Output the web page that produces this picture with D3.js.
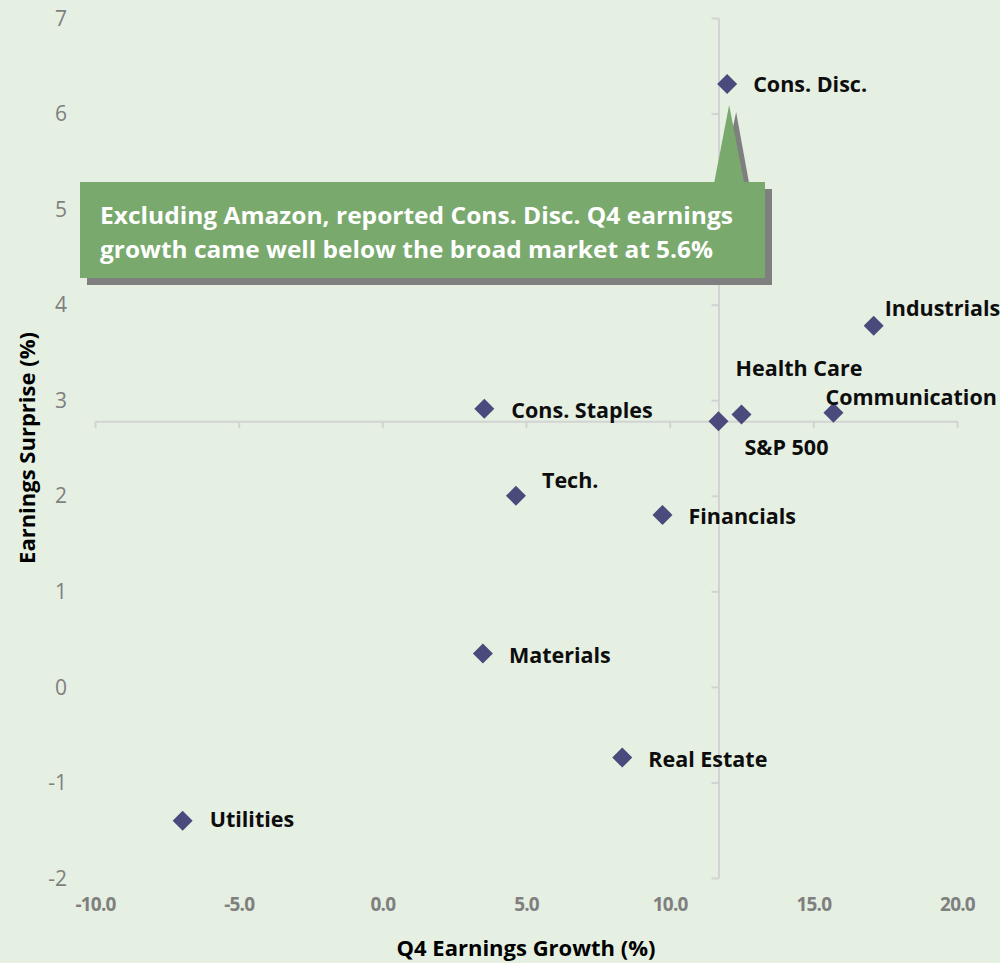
<!DOCTYPE html>
<html>
<head>
<meta charset="utf-8">
<script src="https://cdn.jsdelivr.net/npm/d3@7"></script>
<style>
  body { margin: 0; background: #e5efe2; }
  svg { display: block; font-family: "Open Sans", "DejaVu Sans", sans-serif; }
</style>
</head>
<body>
<div id="chart"></div>
<script>
// sectors and their values (x = Q4 earnings growth %, y = earnings surprise %)
var sectors = ["Cons. Disc.", "Industrials", "Health Care", "Communication", "S&P 500",
               "Cons. Staples", "Tech.", "Financials", "Materials", "Real Estate", "Utilities"];
var growth   = [12.0, 17.1, 12.5, 15.7, 11.7, 3.55, 4.65, 9.75, 3.5, 8.35, -6.95];
var surprise = [6.31, 3.78, 2.85, 2.87, 2.78, 2.91, 2.0, 1.8, 0.35, -0.74, -1.4];
var xTicks = [-10, -5, 0, 5, 10, 15, 20];
var yTicks = [-2, -1, 0, 1, 2, 3, 4, 5, 6, 7];
var benchmark = "S&P 500";
var note = ["Excluding Amazon, reported Cons. Disc. Q4 earnings",
            "growth came well below the broad market at 5.6%"];

var width = 1000, height = 963;
var margin = { top: 18, right: 43, bottom: 85, left: 95 };

// label placement relative to the marker (dx, baseline dy)
var labelPos = {
  "Cons. Disc.": [26, 8], "Industrials": [11, -10], "Health Care": [-6, -39],
  "Communication": [-8, -8], "S&P 500": [26, 34], "Cons. Staples": [27, 9],
  "Tech.": [26, -8], "Financials": [26, 9], "Materials": [26, 10],
  "Real Estate": [26, 9], "Utilities": [27, 6]
};

var data = sectors.map(function (s, i) { return { name: s, x: growth[i], y: surprise[i] }; });
var bench = data.find(function (d) { return d.name == benchmark; });

var x = d3.scaleLinear().domain([-10, 20]).range([margin.left, width - margin.right]);
var y = d3.scaleLinear().domain([-2, 7]).range([height - margin.bottom, margin.top]);

// plain hyphen for negatives, like the original
var fmtX = function (d) { return d.toFixed(1); };
var fmtY = function (d) { return String(d); };

var svg = d3.select("#chart").append("svg")
    .attr("width", width)
    .attr("height", height);

svg.append("rect").attr("width", width).attr("height", height).attr("fill", "#e5efe2");

// crossing axes through the S&P 500 point
var hAxis = svg.append("g")
    .attr("transform", "translate(0," + y(bench.y) + ")")
    .call(d3.axisBottom(x).tickValues(xTicks).tickSize(7).tickSizeOuter(0).tickFormat(""));
var vAxis = svg.append("g")
    .attr("transform", "translate(" + x(bench.x) + ",0)")
    .call(d3.axisLeft(y).tickValues(yTicks).tickSize(7).tickSizeOuter(0).tickFormat(""));
[hAxis, vAxis].forEach(function (g) {
  g.selectAll("path, line").attr("stroke", "#d3d3d3").attr("stroke-width", 2);
});

// tick labels along the outer edges
var xLab = svg.append("g")
    .attr("transform", "translate(0," + (height - margin.bottom + 16) + ")")
    .call(d3.axisBottom(x).tickValues(xTicks).tickSize(0).tickFormat(fmtX));
xLab.select(".domain").remove();
xLab.selectAll("text")
    .attr("fill", "#7f7f7f")
    .style("font-size", "19px")
    .style("font-weight", "bold")
    .style("letter-spacing", "-0.8px")
    .style("font-family", "'Open Sans', sans-serif");

var yLab = svg.append("g")
    .attr("transform", "translate(70,0)")
    .call(d3.axisLeft(y).tickValues(yTicks).tickSize(0).tickFormat(fmtY));
yLab.select(".domain").remove();
yLab.selectAll("text")
    .attr("fill", "#7f7f7f")
    .attr("dy", "0.34em")
    .style("font-size", "21px")
    .style("font-family", "'Open Sans', sans-serif");

// axis titles
svg.append("text")
    .attr("x", (x(-10) + x(20)) / 2)
    .attr("y", 956)
    .attr("text-anchor", "middle")
    .style("font-size", "22px")
    .style("font-weight", "bold")
    .text("Q4 Earnings Growth (%)");

svg.append("text")
    .attr("transform", "translate(35," + 448 + ") rotate(-90)")
    .attr("text-anchor", "middle")
    .style("font-size", "22px")
    .style("font-weight", "bold")
    .text("Earnings Surprise (%)");

// callout with shadow and pointer
var cd = data[0];
var px = x(cd.x), py = y(cd.y);
var box = { x0: 80, x1: 765, y0: 182, y1: 278 };
var shadow = svg.append("g").attr("transform", "translate(7,7)");
shadow.append("rect")
    .attr("x", box.x0).attr("y", box.y0)
    .attr("width", box.x1 - box.x0).attr("height", box.y1 - box.y0)
    .attr("fill", "#7f7f7f");
shadow.append("path")
    .attr("d", "M" + (px - 14) + "," + box.y0 + "L" + (px + 2) + "," + (py + 21) + "L" + (px + 16) + "," + box.y0 + "Z")
    .attr("fill", "#7f7f7f");
svg.append("path")
    .attr("d", "M" + (px - 13) + "," + (box.y0 + 1) + "L" + (px + 2) + "," + (py + 21) + "L" + (px + 17) + "," + (box.y0 + 1) + "Z")
    .attr("fill", "#79a96d");
svg.append("rect")
    .attr("x", box.x0).attr("y", box.y0)
    .attr("width", box.x1 - box.x0).attr("height", box.y1 - box.y0)
    .attr("fill", "#79a96d");
svg.append("g").selectAll("text").data(note).enter().append("text")
    .attr("x", 100)
    .attr("y", function (d, i) { return 224 + i * 34; })
    .attr("fill", "#ffffff")
    .attr("textLength", function (d, i) { return i == 0 ? 633 : 613; })
    .attr("lengthAdjust", "spacingAndGlyphs")
    .style("font-size", "24px")
    .style("font-weight", "bold")
    .text(function (d) { return d; });

// markers
svg.append("g").selectAll("path").data(data).enter().append("path")
    .attr("d", d3.symbol().type(d3.symbolSquare).size(200))
    .attr("transform", function (d) { return "translate(" + x(d.x) + "," + y(d.y) + ") rotate(45)"; })
    .attr("fill", "#4a4a7c");

// labels
svg.append("g").selectAll("text").data(data).enter().append("text")
    .attr("x", function (d) { return x(d.x) + labelPos[d.name][0]; })
    .attr("y", function (d) { return y(d.y) + labelPos[d.name][1]; })
    .attr("fill", "#0d0d0d")
    .style("font-size", "21.5px")
    .style("font-weight", "bold")
    .text(function (d) { return d.name; });
</script>
</body>
</html>
